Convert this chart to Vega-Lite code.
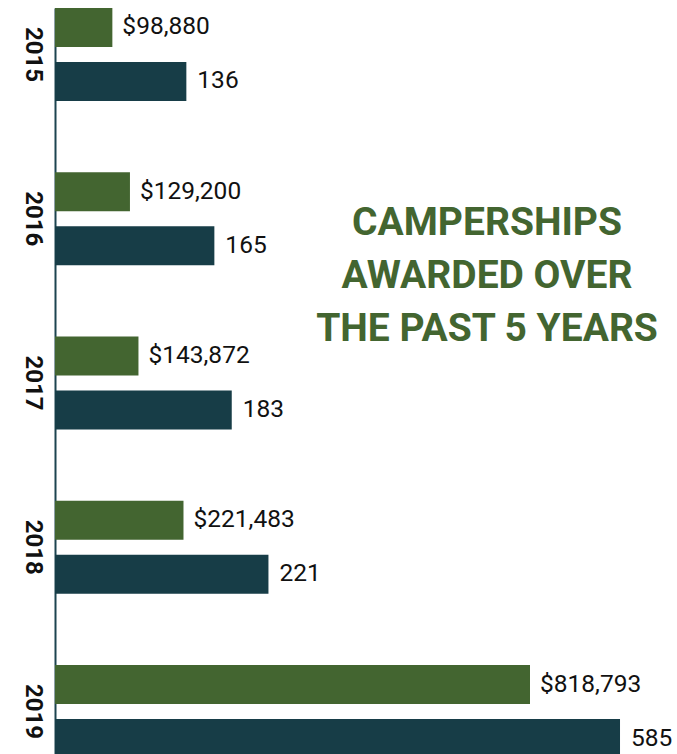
{
  "$schema": "https://vega.github.io/schema/vega-lite/v6.json",
  "width": 622,
  "height": 746,
  "autosize": {"type": "none"},
  "padding": {"left": 55, "top": 8, "right": 0, "bottom": 0},
  "background": "white",
  "config": {"view": {"stroke": null}, "font": "Roboto"},
  "title": {
    "text": ["CAMPERSHIPS", "AWARDED OVER", "THE PAST 5 YEARS"],
    "orient": "top",
    "anchor": "middle",
    "baseline": "top",
    "offset": 0,
    "dx": 121,
    "dy": 341,
    "font": "Roboto",
    "fontSize": 39,
    "fontWeight": "bold",
    "lineHeight": 53,
    "color": "#436530"
  },
  "data": {
    "values": [
      {"year": "2015", "metric": "Amount", "value": 98880},
      {"year": "2015", "metric": "Campers", "value": 136},
      {"year": "2016", "metric": "Amount", "value": 129200},
      {"year": "2016", "metric": "Campers", "value": 165},
      {"year": "2017", "metric": "Amount", "value": 143872},
      {"year": "2017", "metric": "Campers", "value": 183},
      {"year": "2018", "metric": "Amount", "value": 221483},
      {"year": "2018", "metric": "Campers", "value": 221},
      {"year": "2019", "metric": "Amount", "value": 818793},
      {"year": "2019", "metric": "Campers", "value": 585}
    ]
  },
  "encoding": {
    "y": {
      "field": "year",
      "type": "nominal",
      "scale": {"range": [0, 750], "paddingInner": 0.434, "paddingOuter": 0},
      "axis": {
        "title": null,
        "labelAngle": 90,
        "labelAlign": "center",
        "labelBaseline": "top",
        "labelFontSize": 24,
        "labelFontWeight": "bold",
        "labelFont": "Roboto",
        "labelColor": "#111111",
        "labelPadding": 11,
        "ticks": false,
        "domainColor": "#1d4450",
        "domainWidth": 2,
        "grid": false
      }
    },
    "yOffset": {
      "field": "metric",
      "type": "nominal",
      "scale": {"domain": ["Amount", "Campers"], "paddingInner": 0.278, "paddingOuter": 0}
    }
  },
  "layer": [
    {
      "transform": [{"filter": "datum.metric === 'Amount'"}],
      "encoding": {
        "x": {"field": "value", "type": "quantitative", "scale": {"domain": [0, 1072196]}, "axis": null}
      },
      "layer": [
        {"mark": {"type": "bar", "color": "#436530"}},
        {
          "mark": {"type": "text", "align": "left", "dx": 10, "fontSize": 24.5, "font": "Roboto", "color": "#111111"},
          "encoding": {"text": {"field": "value", "type": "quantitative", "format": "$,.0f"}}
        }
      ]
    },
    {
      "transform": [{"filter": "datum.metric === 'Campers'"}],
      "encoding": {
        "x": {"field": "value", "type": "quantitative", "scale": {"domain": [0, 644]}, "axis": null}
      },
      "layer": [
        {"mark": {"type": "bar", "color": "#173d47"}},
        {
          "mark": {"type": "text", "align": "left", "dx": 11, "fontSize": 24.5, "font": "Roboto", "color": "#111111"},
          "encoding": {"text": {"field": "value", "type": "quantitative", "format": "d"}}
        }
      ]
    }
  ],
  "resolve": {"scale": {"x": "independent"}}
}
